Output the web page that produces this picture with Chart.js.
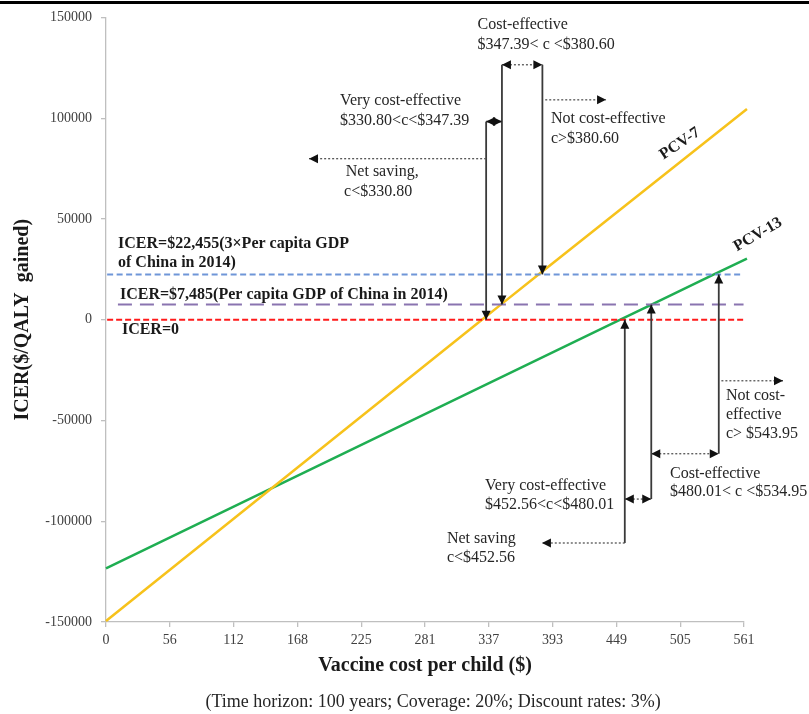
<!DOCTYPE html>
<html>
<head>
<meta charset="utf-8">
<script src="https://cdn.jsdelivr.net/npm/chart.js@4.4.1/dist/chart.umd.min.js"></script>
<style>
	html, body { margin: 0; padding: 0; background: #fff; }
	#wrap { width: 809px; height: 714px; }
</style>
</head>
<body>
<div id="wrap"><canvas id="icer_chart" width="809" height="714"></canvas></div>
<script>
( function( ) {
	'use strict';

	// vaccine cost per child ($) -> ICER ($/QALY gained)
	var pcv7_cost = [ 0, 330.80, 347.39, 380.60, 564 ];
	var pcv7_icer = [ -149500, 0, 7485, 22455, 104500 ];
	var pcv13_cost = [ 0, 452.56, 480.01, 534.95, 564 ];
	var pcv13_icer = [ -123400, 0, 7485, 22455, 30300 ];

	// willingness-to-pay thresholds (dashed lines)
	var threshold_icer = [ 22455, 7485, 0 ];
	var threshold_from = [ 1, 10.5, 1 ];
	var threshold_to = [ 561, 561, 561 ];

	// axis ticks
	var x_tick_values = [ 0, 56.14, 112.28, 168.42, 224.56, 280.7, 336.84, 392.98, 449.12, 505.26, 561.4 ];
	var x_tick_labels = [ '0', '56', '112', '168', '225', '281', '337', '393', '449', '505', '561' ];
	var y_tick_values = [ -150000, -100000, -50000, 0, 50000, 100000, 150000 ];

	var serif = '"Liberation Serif", "Times New Roman", serif';

	function points( xs, ys ) {
		return xs.map( function( x, i ) { return { x: x, y: ys[ i ] }; } );
	}

	var threshold_style = [
		{ color: '#6f96d8', dash: [ 6, 3.5 ] },
		{ color: '#8a74b0', dash: [ 14, 8 ] },
		{ color: '#ff1a1a', dash: [ 6, 3 ] }
	];

	var datasets = [
		{ label: 'PCV-7', data: points( pcv7_cost, pcv7_icer ), borderColor: '#f7c21b', borderWidth: 2.5 },
		{ label: 'PCV-13', data: points( pcv13_cost, pcv13_icer ), borderColor: '#1fae52', borderWidth: 2.5 }
	];
	threshold_icer.forEach( function( v, i ) {
		datasets.unshift( {
			label: 'ICER=' + v,
			data: [ { x: threshold_from[ i ], y: v }, { x: threshold_to[ i ], y: v } ],
			borderColor: threshold_style[ i ].color,
			borderDash: threshold_style[ i ].dash,
			borderWidth: 2
		} );
	} );
	datasets.forEach( function( d ) {
		d.showLine = true;
		d.pointRadius = 0;
		d.pointHoverRadius = 0;
		d.fill = false;
		d.tension = 0;
		d.clip = false;
	} );

	// annotations (positions in data units)
	var notes = [
		[ 'Cost-effective', 327, 146300 ],
		[ '$347.39< c <$380.60', 327, 136400 ],
		[ 'Very cost-effective', 206, 108600 ],
		[ '$330.80<c<$347.39', 206, 98700 ],
		[ 'Not cost-effective', 391.5, 99700 ],
		[ 'c>$380.60', 391.5, 89800 ],
		[ 'Net saving,', 211, 73400 ],
		[ 'c<$330.80', 209.5, 63500 ],
		[ 'Not cost-', 545.5, -37700 ],
		[ 'effective', 545.5, -47100 ],
		[ 'c> $543.95', 545.5, -56500 ],
		[ 'Cost-effective', 496.3, -76400 ],
		[ '$480.01< c <$534.95', 496.3, -85300 ],
		[ 'Very cost-effective', 333.5, -82300 ],
		[ '$452.56<c<$480.01', 333.5, -91800 ],
		[ 'Net saving', 300, -108600 ],
		[ 'c<$452.56', 300, -118000 ]
	];
	var bold_notes = [
		[ 'ICER=$22,455(3\u00d7Per capita GDP', 10.6, 37700 ],
		[ 'of China in 2014)', 10.6, 28300 ],
		[ 'ICER=$7,485(Per capita GDP of China in 2014)', 12.3, 12400 ],
		[ 'ICER=0', 14, -5000 ]
	];
	var series_labels = [
		[ 'PCV-7', 505, 87300, -34 ],
		[ 'PCV-13', 573.7, 42200, -30 ]
	];

	// [x1, y1, x2, y2, dotted, head at start, head at end]
	var arrows = [
		[ 334.5, 98300, 334.5, 0, false, false, true ],
		[ 348.4, 126500, 348.4, 7485, false, false, true ],
		[ 384, 126500, 384, 22455, false, false, true ],
		[ 334.5, 98300, 348.4, 98300, false, true, true ],
		[ 348.4, 126500, 384, 126500, true, true, true ],
		[ 386.5, 109100, 440, 109100, true, false, true ],
		[ 334.5, 79900, 178.6, 79900, true, false, true ],
		[ 456.5, -110800, 456.5, 0, false, false, true ],
		[ 479.8, -89000, 479.8, 7485, false, false, true ],
		[ 539.2, -66500, 539.2, 22455, false, false, true ],
		[ 456.5, -110800, 383.6, -110800, true, false, true ],
		[ 456.5, -89000, 479.8, -89000, true, true, true ],
		[ 479.8, -66500, 539.2, -66500, true, true, true ],
		[ 541.5, -30300, 595.7, -30300, true, false, true ]
	];

	function head( ctx, x, y, angle ) {
		var len = 9, half = 4.5;
		ctx.save();
		ctx.translate( x, y );
		ctx.rotate( angle );
		ctx.beginPath();
		ctx.moveTo( 0, 0 );
		ctx.lineTo( -len, -half );
		ctx.lineTo( -len, half );
		ctx.closePath();
		ctx.fill();
		ctx.restore();
	}

	var annotate = {
		id: 'annotate',
		beforeDraw: function( chart ) {
			var ctx = chart.ctx;
			ctx.save();
			ctx.fillStyle = '#fff';
			ctx.fillRect( 0, 0, chart.width, chart.height );
			ctx.restore();
		},
		afterDraw: function( chart ) {
			var ctx = chart.ctx;
			var sx = chart.scales.x, sy = chart.scales.y;
			var px = function( v ) { return sx.getPixelForValue( v ); };
			var py = function( v ) { return sy.getPixelForValue( v ); };

			ctx.save();
			// top rule
			ctx.fillStyle = '#000';
			ctx.fillRect( 0, 1, chart.width, 3 );

			// arrows
			arrows.forEach( function( a ) {
				var x1 = px( a[ 0 ] ), y1 = py( a[ 1 ] ), x2 = px( a[ 2 ] ), y2 = py( a[ 3 ] );
				var ang = Math.atan2( y2 - y1, x2 - x1 );
				ctx.strokeStyle = a[ 4 ] ? '#555' : '#3a3a3a';
				ctx.fillStyle = '#111';
				ctx.lineWidth = a[ 4 ] ? 1.3 : 1.8;
				ctx.setLineDash( a[ 4 ] ? [ 2, 2 ] : [ ] );
				ctx.beginPath();
				ctx.moveTo( x1, y1 );
				ctx.lineTo( x2, y2 );
				ctx.stroke();
				ctx.setLineDash( [ ] );
				if ( a[ 6 ] ) head( ctx, x2, y2, ang );
				if ( a[ 5 ] ) head( ctx, x1, y1, ang + Math.PI );
			} );

			// notes
			ctx.textBaseline = 'middle';
			ctx.textAlign = 'left';
			ctx.fillStyle = '#262626';
			ctx.font = '16px ' + serif;
			notes.forEach( function( n ) {
				ctx.fillText( n[ 0 ], px( n[ 1 ] ), py( n[ 2 ] ) );
			} );
			ctx.fillStyle = '#1a1a1a';
			ctx.font = 'bold 16px ' + serif;
			bold_notes.forEach( function( n ) {
				ctx.fillText( n[ 0 ], px( n[ 1 ] ), py( n[ 2 ] ) );
			} );
			ctx.textAlign = 'center';
			series_labels.forEach( function( n ) {
				ctx.save();
				ctx.translate( px( n[ 1 ] ), py( n[ 2 ] ) );
				ctx.rotate( n[ 3 ] * Math.PI / 180 );
				ctx.fillText( n[ 0 ], 0, 0 );
				ctx.restore();
			} );

			// caption
			ctx.fillStyle = '#262626';
			ctx.font = '18px ' + serif;
			ctx.fillText( '(Time horizon: 100 years; Coverage: 20%; Discount rates: 3%)', 433, 702 );
			ctx.restore();
		}
	};

	var axis_grid = {
		drawOnChartArea: false,
		drawTicks: true,
		tickLength: 5,
		color: '#bfbfbf',
		lineWidth: 1.3
	};

	new Chart( document.getElementById( 'icer_chart' ), {
		type: 'scatter',
		data: { datasets: datasets },
		options: {
			responsive: false,
			animation: false,
			events: [ ],
			layout: { padding: { top: 17, right: 65, bottom: 32, left: 0 } },
			plugins: {
				legend: { display: false },
				tooltip: { enabled: false },
				title: { display: false }
			},
			scales: {
				x: {
					type: 'linear',
					min: 0,
					max: 561.4,
					afterFit: function( scale ) { scale.height = 60; },
					afterBuildTicks: function( scale ) {
						scale.ticks = x_tick_values.map( function( v ) { return { value: v }; } );
					},
					grid: axis_grid,
					border: { color: '#bfbfbf', width: 1.3 },
					ticks: {
						autoSkip: false,
						maxRotation: 0,
						padding: 5,
						color: '#404040',
						font: { family: serif, size: 14 },
						callback: function( v, i ) { return x_tick_labels[ i ]; }
					},
					title: {
						display: true,
						text: 'Vaccine cost per child ($)',
						color: '#1a1a1a',
						font: { family: serif, size: 20, weight: 'bold' },
						padding: { top: 0, bottom: 4 }
					}
				},
				y: {
					type: 'linear',
					min: -150000,
					max: 150000,
					afterFit: function( scale ) { scale.width = 106; },
					afterBuildTicks: function( scale ) {
						scale.ticks = y_tick_values.map( function( v ) { return { value: v }; } );
					},
					grid: axis_grid,
					border: { color: '#bfbfbf', width: 1.3 },
					ticks: {
						padding: 9,
						color: '#404040',
						font: { family: serif, size: 14 },
						callback: function( v ) { return String( v ); }
					},
					title: {
						display: true,
						text: 'ICER($/QALY  gained)',
						color: '#1a1a1a',
						font: { family: serif, size: 20, weight: 'bold' },
						padding: { top: 11, bottom: 0 }
					}
				}
			}
		},
		plugins: [ annotate ]
	} );
} )( );
</script>
</body>
</html>
